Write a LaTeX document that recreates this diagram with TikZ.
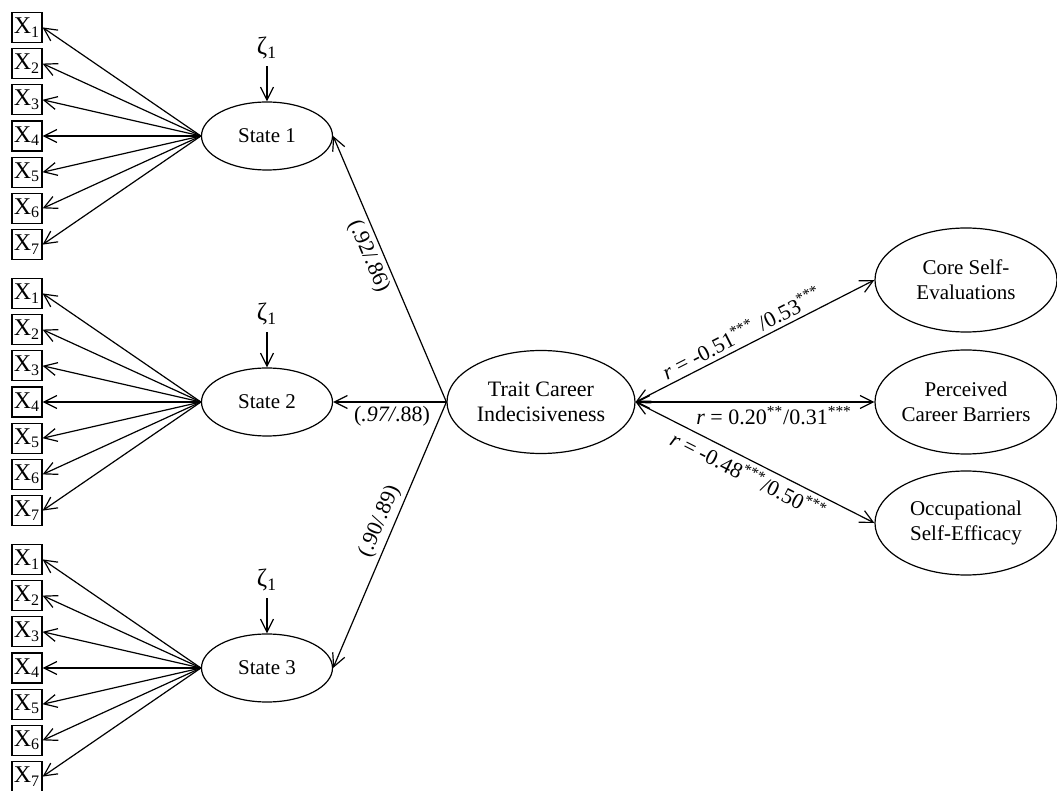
\documentclass[tikz,border=0pt]{standalone}
\usepackage{fontspec}
\setmainfont{Liberation Serif}
\usetikzlibrary{arrows.meta,shapes.geometric}
\begin{document}
\begin{tikzpicture}[x=0.5pt,y=-0.5pt,line width=0.6pt,
    font=\fontsize{10.5}{12.6}\selectfont,
    tip/.style={-{Straight Barb[length=6.5pt,width=6.5pt]}},
    both/.style={{Straight Barb[length=6.5pt,width=6.5pt]}-{Straight Barb[length=6.5pt,width=6.5pt]}},
    item/.style={draw,inner sep=0.8pt,minimum width=15pt,minimum height=15pt,font=\fontsize{12}{14}\selectfont},
    state/.style={draw,ellipse,minimum width=65.5pt,minimum height=34pt,inner sep=0pt},
    outcome/.style={draw,ellipse,minimum width=91pt,minimum height=52pt,inner sep=0pt,inner xsep=-4pt,align=center},
    coef/.style={inner sep=2pt,font=\fontsize{11}{13}\selectfont}]
\useasboundingbox (0,0) rectangle (1057,791);
\foreach \s/\yc in {1/136,2/402,3/668} {
    \node[state] (state\s) at (267,\yc) {State \s};
    \node[font=\fontsize{12.5}{14}\selectfont] (zeta\s) at (267,{\yc-88}) {ζ\textsubscript{1}};
    \draw[tip] (zeta\s) -- (state\s);
    \foreach \i in {1,...,7} {
        \node[item] (x\s\i) at (27,{\yc+(\i-4)*36.2}) {X\textsubscript{\i}};
        \draw[tip] (state\s.west) -- (x\s\i.east);
    }
}
\node[state,minimum width=94pt,minimum height=51.5pt,align=center,font=\fontsize{11}{12.8}\selectfont] (trait) at (541,402) {Trait Career\\Indecisiveness};
\draw[tip] (trait.west) -- node[coef,below,pos=0.48] {(\textit{.97/}.88)} (state2.east);
\draw[tip] (trait.west) -- node[coef,sloped,below,pos=0.57] {(.92/.86)} (state1.east);
\draw[tip] (trait.west) -- node[coef,sloped,above,pos=0.47] {(.90/.89)} (state3.east);
\node[outcome] (core) at (966,280) {Core Self-\\Evaluations};
\node[outcome] (barrier) at (966,402) {Perceived\\Career Barriers};
\node[outcome] (efficacy) at (966,523) {Occupational\\Self-Efficacy};
\draw[both] (trait.east) -- node[coef,sloped,above,pos=0.47] {\textit{r} = -0.51\textsuperscript{***} /0.53\textsuperscript{***}} (core.west);
\draw[both] (trait.east) -- node[coef,below,pos=0.58] {\textit{r} = 0.20\textsuperscript{**}/0.31\textsuperscript{***}} (barrier.west);
\draw[both] (trait.east) -- node[coef,sloped,below,pos=0.5] {\textit{r} = -0.48\textsuperscript{***}/0.50\textsuperscript{***}} (efficacy.west);
\end{tikzpicture}
\end{document}
